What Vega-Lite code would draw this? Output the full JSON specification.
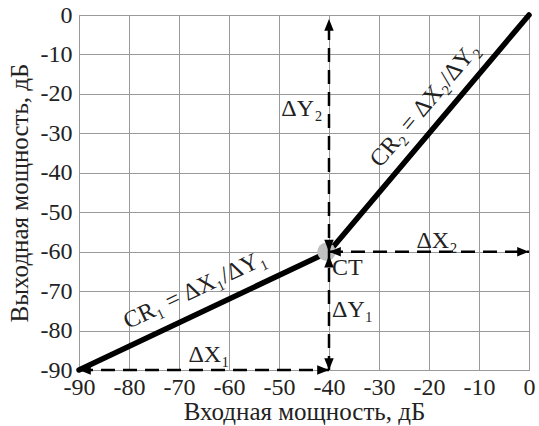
{
  "$schema": "https://vega.github.io/schema/vega-lite/v6.json",
  "width": 450,
  "height": 355,
  "autosize": "none",
  "padding": {"left": 79, "top": 15, "right": 10, "bottom": 56},
  "background": "white",
  "config": {
    "font": "Liberation Serif",
    "view": {"stroke": "#9a9a9a", "strokeWidth": 1},
    "axis": {
      "grid": true, "gridColor": "#9a9a9a", "gridWidth": 1, "gridOpacity": 1,
      "domainColor": "#9a9a9a", "ticks": false, "labelOverlap": false, "labelFlush": false,
      "labelFont": "Liberation Serif", "labelFontSize": 24, "labelColor": "#222",
      "titleFont": "Liberation Serif", "titleFontSize": 25, "titleFontWeight": "normal", "titleColor": "#222"
    },
    "axisY": {"labelOverlap": false, "labelBound": false},
    "axisQuantitative": {"labelOverlap": false}
  },
  "datasets": {
    "main": [{"x": -90, "y": -90}, {"x": -40, "y": -60}, {"x": 0, "y": 0}],
    "dash": [
      {"seg": "dX1", "x": -90, "y": -90}, {"seg": "dX1", "x": -40, "y": -90},
      {"seg": "dY", "x": -40, "y": -90}, {"seg": "dY", "x": -40, "y": -1},
      {"seg": "dX2", "x": -40, "y": -60}, {"seg": "dX2", "x": 0, "y": -60}
    ],
    "ct": [{"x": -40.5, "y": -60}],
    "arrows": [
      {"x": -90, "y": -90, "dir": "left"},
      {"x": -40, "y": -90, "dir": "right"},
      {"x": -40, "y": -90, "dir": "down"},
      {"x": -40, "y": -61, "dir": "up"},
      {"x": -40, "y": -60, "dir": "down"},
      {"x": -40, "y": -1, "dir": "up"},
      {"x": -40, "y": -60, "dir": "left"},
      {"x": 0, "y": -60, "dir": "right"}
    ],
    "centerLabels": [
      {"x": -64, "y": -86.2, "t": "ΔX₁"},
      {"x": -18.4, "y": -57.3, "t": "ΔX₂"}
    ],
    "leftLabels": [
      {"x": -39.4, "y": -64.2, "t": "CT"},
      {"x": -39.4, "y": -74.8, "t": "ΔY₁"}
    ],
    "rightLabels": [
      {"x": -41.3, "y": -23.8, "t": "ΔY₂"}
    ],
    "cr1": [{"x": -66.8, "y": -69.7, "t": "CR₁ = ΔX₁/ΔY₁"}],
    "cr2": [{"x": -20.8, "y": -22.8, "t": "CR₂ = ΔX₂/ΔY₂"}]
  },
  "encoding": {
    "x": {"field": "x", "type": "quantitative", "scale": {"domain": [-90, 0], "nice": false},
          "axis": {"values": [-90, -80, -70, -60, -50, -40, -30, -20, -10, 0], "labelExpr": "toString(datum.value)", "labelOverlap": false, "title": "Входная мощность, дБ", "labelPadding": 5, "titlePadding": 0}},
    "y": {"field": "y", "type": "quantitative", "scale": {"domain": [-90, 0], "nice": false},
          "axis": {"values": [-90, -80, -70, -60, -50, -40, -30, -20, -10, 0], "labelExpr": "toString(datum.value)", "labelOverlap": false, "title": "Выходная мощность, дБ", "labelPadding": 7, "titlePadding": 8}}
  },
  "layer": [
    {
      "data": {"name": "main"},
      "mark": {"type": "line", "color": "black", "strokeWidth": 5.5, "strokeCap": "round"}
    },
    {
      "data": {"name": "ct"},
      "mark": {"type": "point", "shape": "circle", "filled": true, "color": "#c0c0c0", "opacity": 1, "size": 340}
    },
    {
      "data": {"name": "dash"},
      "mark": {"type": "line", "color": "black", "strokeWidth": 2.5, "strokeDash": [14, 8]},
      "encoding": {"detail": {"field": "seg"}}
    },
    {
      "data": {"name": "arrows"},
      "transform": [{"filter": "datum.dir === 'right'"}],
      "mark": {"type": "point", "shape": "M0,0L-2,-0.8L-2,0.8Z", "filled": true, "color": "black", "opacity": 1, "size": 140, "angle": 0}
    },
    {
      "data": {"name": "arrows"},
      "transform": [{"filter": "datum.dir === 'down'"}],
      "mark": {"type": "point", "shape": "M0,0L-2,-0.8L-2,0.8Z", "filled": true, "color": "black", "opacity": 1, "size": 140, "angle": 90}
    },
    {
      "data": {"name": "arrows"},
      "transform": [{"filter": "datum.dir === 'left'"}],
      "mark": {"type": "point", "shape": "M0,0L-2,-0.8L-2,0.8Z", "filled": true, "color": "black", "opacity": 1, "size": 140, "angle": 180}
    },
    {
      "data": {"name": "arrows"},
      "transform": [{"filter": "datum.dir === 'up'"}],
      "mark": {"type": "point", "shape": "M0,0L-2,-0.8L-2,0.8Z", "filled": true, "color": "black", "opacity": 1, "size": 140, "angle": 270}
    },
    {
      "data": {"name": "centerLabels"},
      "mark": {"type": "text", "fontSize": 24, "color": "#222", "align": "center", "baseline": "middle"},
      "encoding": {"text": {"field": "t"}}
    },
    {
      "data": {"name": "leftLabels"},
      "mark": {"type": "text", "fontSize": 24, "color": "#222", "align": "left", "baseline": "middle"},
      "encoding": {"text": {"field": "t"}}
    },
    {
      "data": {"name": "rightLabels"},
      "mark": {"type": "text", "fontSize": 24, "color": "#222", "align": "right", "baseline": "middle"},
      "encoding": {"text": {"field": "t"}}
    },
    {
      "data": {"name": "cr1"},
      "mark": {"type": "text", "fontSize": 24, "color": "#222", "align": "center", "baseline": "middle", "angle": 334.7},
      "encoding": {"text": {"field": "t"}}
    },
    {
      "data": {"name": "cr2"},
      "mark": {"type": "text", "fontSize": 24, "color": "#222", "align": "center", "baseline": "middle", "angle": 310.2},
      "encoding": {"text": {"field": "t"}}
    }
  ]
}
